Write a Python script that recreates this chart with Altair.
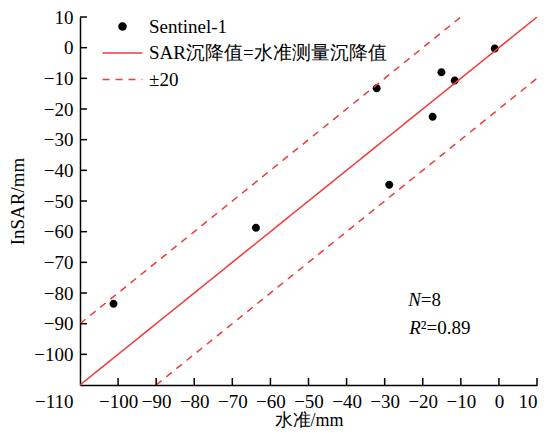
import altair as alt
import pandas as pd

# ---- data ----
series_names = ["Sentinel-1", "SAR沉降值=水准测量沉降值", "±20"]

pt_x = [-101.2, -63.8, -32.1, -28.8, -17.4, -15.1, -11.6, -1.1]
pt_y = [-83.5, -58.7, -13.2, -44.7, -22.5, -8.0, -10.7, -0.3]

line_ids = ["eq", "eq", "up", "up", "lo", "lo"]
line_series = [series_names[1], series_names[1], series_names[2], series_names[2], series_names[2], series_names[2]]
line_x = [-110, 10, -110, -10, -90, 10]
line_y = [-110, 10, -90, 10, -110, -10]

x_ticks = [-110, -100, -90, -80, -70, -60, -50, -40, -30, -20, -10, 0, 10]
y_ticks = [-100, -90, -80, -70, -60, -50, -40, -30, -20, -10, 0, 10]

ann_x = [-20.5, -20.5]
ann_y = [-82.3, -91.3]
ann_italic = ["N", "R"]
ann_rest = ["=8", "²=0.89"]

# ---- styling ----
RED = "#ef3b39"
FONT = "Liberation Serif"
W, H = 457, 368
TICK = 7
circle_path = "M-1,0A1,1,0,1,1,1,0A1,1,0,1,1,-1,0Z"
line_path = "M-5.7,0H5.7"

pts = pd.DataFrame({"x": pt_x, "y": pt_y, "series": series_names[0]})
lines = pd.DataFrame({"x": line_x, "y": line_y, "series": line_series, "lid": line_ids})
ann = pd.DataFrame({"x": ann_x, "y": ann_y, "it": ann_italic, "rest": ann_rest})
xt = pd.DataFrame({"x": x_ticks[1:]})
yt = pd.DataFrame({"y": y_ticks})

xscale = alt.Scale(domain=[-110, 10], nice=False, zero=False)
yscale = alt.Scale(domain=[-110, 10], nice=False, zero=False)

common_axis = dict(
    format="d", grid=False, labelOverlap=False, ticks=False,
    labelFont=FONT, labelFontSize=19, labelColor="black",
    titleFont=FONT, titleFontWeight="normal", titleColor="black",
    domainColor="black", domainWidth=1.5,
)
xaxis = alt.Axis(
    values=x_ticks, title="水准/mm", labelPadding=7, titlePadding=0, titleFontSize=18,
    labelAlign={"condition": {"test": "datum.value == -110 || datum.value == 10", "value": "right"},
                "value": "center"},
    labelOffset={"condition": {"test": "datum.value == -110", "value": -7}, "value": 0},
    labelFlush=False, **common_axis,
)
yaxis = alt.Axis(values=y_ticks, title="InSAR/mm", labelPadding=7, titlePadding=6,
                 titleFontSize=19, **common_axis)

X = alt.X("x:Q", scale=xscale, axis=xaxis)
Y = alt.Y("y:Q", scale=yscale, axis=yaxis)

dom = series_names
fill_scale = alt.Scale(domain=dom, range=["black", RED, RED])
stroke_scale = alt.Scale(domain=dom, range=["black", RED, RED])
shape_scale = alt.Scale(domain=dom, range=[circle_path, line_path, line_path])
dash_scale = alt.Scale(domain=dom, range=[[1, 0], [1, 0], [7, 6]])

leg = alt.Legend(
    orient="none", legendX=33, legendY=0, padding=0,
    labelFont=FONT, labelFontSize=19, labelColor="black", labelLimit=0,
    symbolSize=49, symbolStrokeWidth=1.5, labelOffset=17, rowPadding=6.5,
    symbolOpacity=1,
)

points = alt.Chart(pts).mark_point(filled=True, size=64, opacity=1, strokeWidth=0).encode(
    x=X, y=Y,
    fill=alt.Fill("series:N", scale=fill_scale, title=None, legend=leg),
    stroke=alt.Stroke("series:N", scale=stroke_scale, title=None, legend=leg),
    shape=alt.Shape("series:N", scale=shape_scale, title=None, legend=leg),
)

ref_lines = alt.Chart(lines).mark_line(strokeWidth=1.5, clip=True).encode(
    x=X, y=Y,
    stroke=alt.Stroke("series:N", scale=stroke_scale, title=None, legend=leg),
    strokeDash=alt.StrokeDash("series:N", scale=dash_scale, title=None, legend=leg),
    detail="lid:N",
)

# inward-pointing tick marks, positioned by the shared scales
xticks = alt.Chart(xt).mark_rule(color="black", strokeWidth=1.5).encode(
    x=X, y=alt.value(H), y2=alt.value(H - TICK),
)
yticks = alt.Chart(yt).mark_rule(color="black", strokeWidth=1.5).encode(
    y=Y, x=alt.value(0), x2=alt.value(TICK),
)

ann_it = alt.Chart(ann).mark_text(
    font=FONT, fontSize=19, fontStyle="italic", align="right", baseline="middle", color="black"
).encode(x=X, y=Y, text="it:N")

ann_rs = alt.Chart(ann).mark_text(
    font=FONT, fontSize=19, align="left", baseline="middle", color="black"
).encode(x=X, y=Y, text="rest:N")

chart = alt.layer(points, ref_lines, xticks, yticks, ann_it, ann_rs).properties(
    width=W, height=H,
    autosize=alt.AutoSizeParams(type="none"),
    padding={"left": 72, "top": 9, "right": 5, "bottom": 43},
).configure_view(stroke=None)

chart.save("out.html", embed_options={"renderer": "svg", "actions": False})
